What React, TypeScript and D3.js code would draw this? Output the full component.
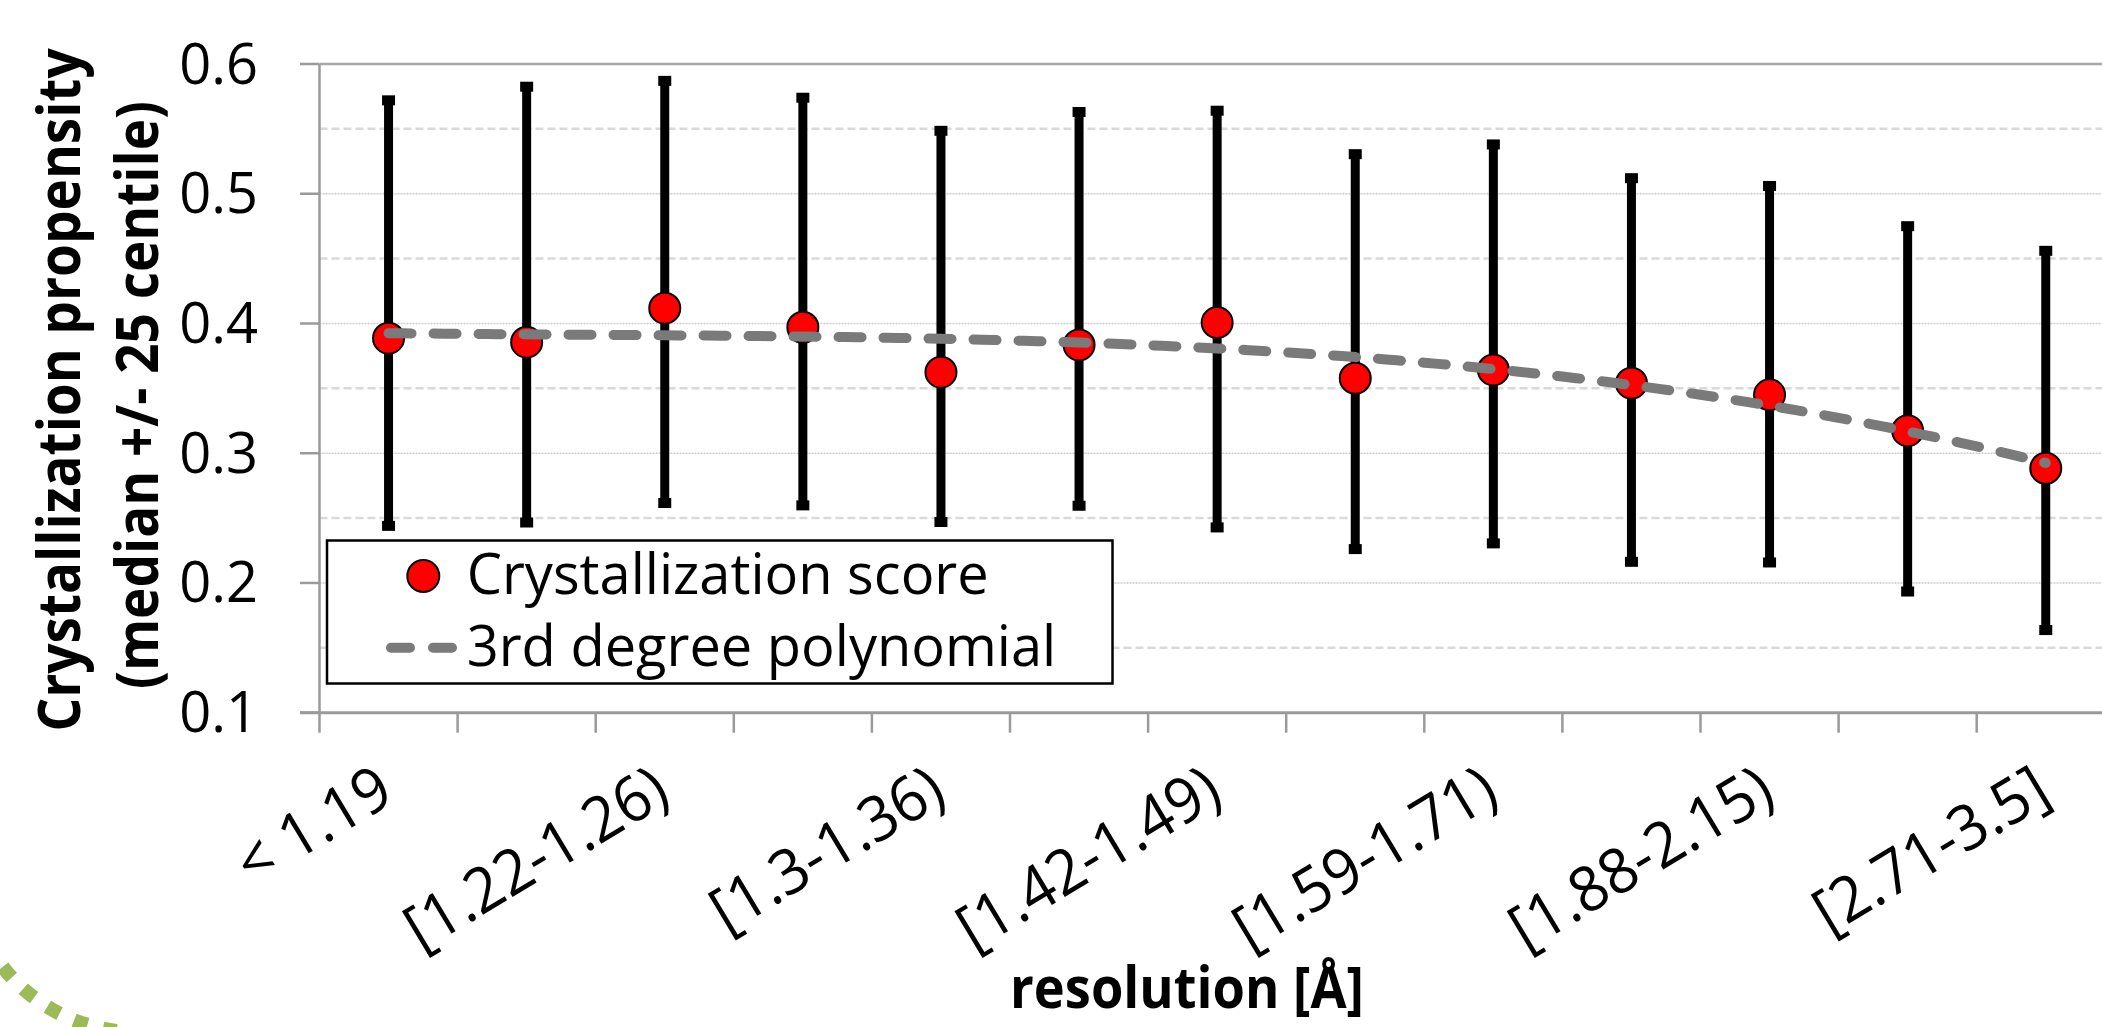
import React from "react";
import * as d3 from "d3";

const categories = [
  "< 1.19", "[1.19-1.22)", "[1.22-1.26)", "[1.26-1.3)", "[1.3-1.36)", "[1.36-1.42)",
  "[1.42-1.49)", "[1.49-1.59)", "[1.59-1.71)", "[1.71-1.88)", "[1.88-2.15)", "[2.15-2.71)", "[2.71-3.5]",
];
const medians = [0.3887, 0.3856, 0.4118, 0.3971, 0.3625, 0.3835, 0.4007, 0.3578, 0.3642, 0.354, 0.345, 0.3174, 0.2884];
const upper = [0.572, 0.5825, 0.587, 0.574, 0.5485, 0.563, 0.564, 0.5305, 0.538, 0.512, 0.506, 0.475, 0.456];
const lower = [0.244, 0.2466, 0.2616, 0.2598, 0.247, 0.2595, 0.2428, 0.2261, 0.2305, 0.2163, 0.2158, 0.1934, 0.1637];
const yMajorTicks = [0.1, 0.2, 0.3, 0.4, 0.5, 0.6];
const yMinorTicks = [0.15, 0.25, 0.35, 0.45, 0.55];
const yTitleLines = ["Crystallization propensity", "(median +/- 25 centile)"];
const xTitle = "resolution [Å]";
const legendLabels = ["Crystallization score", "3rd degree polynomial"];

const W = 2102;
const H = 1027;
const left = 319.5;
const step = 138.1;
const top = 64;
const bottom = 712.7;

function cubicFit(xs: number[], ys: number[]): number[] {
  const n = 4;
  const A: number[][] = Array.from({ length: n }, () => new Array(n + 1).fill(0));
  xs.forEach((x, k) => {
    for (let i = 0; i < n; i++) {
      for (let j = 0; j < n; j++) A[i][j] += Math.pow(x, i + j);
      A[i][n] += ys[k] * Math.pow(x, i);
    }
  });
  for (let c = 0; c < n; c++) {
    let p = c;
    for (let r = c + 1; r < n; r++) if (Math.abs(A[r][c]) > Math.abs(A[p][c])) p = r;
    [A[c], A[p]] = [A[p], A[c]];
    for (let r = 0; r < n; r++) {
      if (r === c) continue;
      const f = A[r][c] / A[c][c];
      for (let k = c; k <= n; k++) A[r][k] -= f * A[c][k];
    }
  }
  return A.map((row, i) => row[n] / row[i]);
}

export default function App() {
  const x = d3.scaleBand<string>().domain(categories).range([left, left + step * categories.length]).padding(0);
  const xNum = d3.scaleLinear().domain([0.5, categories.length + 0.5]).range([left, left + step * categories.length]);
  const y = d3.scaleLinear().domain([0.1, 0.6]).range([bottom, top]);
  const cx = (c: string) => (x(c) as number) + x.bandwidth() / 2;

  const idx = categories.map((_, i) => i + 1);
  const coef = cubicFit(idx, medians);
  const poly = (t: number) => coef[0] + coef[1] * t + coef[2] * t * t + coef[3] * t * t * t;
  const samples = d3.range(1, categories.length + 0.001, 0.1);
  const trendPath = d3.line<number>().x((t) => xNum(t)).y((t) => y(poly(t)))(samples) || "";

  const xTickPositions = d3.range(categories.length + 1).map((k) => left + k * step);

  const font = "'Open Sans', 'Noto Sans', sans-serif";

  // decorative green dotted arc (bottom-left)
  const ac = [136.5, 862];
  const ar = 170;
  const pt = (a: number) => [ac[0] + ar * Math.cos((a * Math.PI) / 180), ac[1] + ar * Math.sin((a * Math.PI) / 180)];
  const a1 = pt(152), a2 = pt(96);
  const arcPath = `M${a1[0]},${a1[1]} A${ar},${ar} 0 0 0 ${a2[0]},${a2[1]}`;

  return (
    <div style={{ position: "absolute", left: 0, top: 0 }}>
      <svg width={W} height={H} style={{ display: "block", background: "#fff" }} fontFamily={font}>
        <rect x={0} y={0} width={W} height={H} fill="#fff" />
        {/* minor gridlines */}
        {yMinorTicks.map((v) => (
          <line key={"mn" + v} x1={left} x2={W} y1={y(v)} y2={y(v)} stroke="#d9d9d9" strokeWidth={2.5} strokeDasharray="8 4" />
        ))}
        {/* major gridlines */}
        {yMajorTicks.filter((v) => v > 0.1 && v < 0.6).map((v) => (
          <line key={"mj" + v} x1={left} x2={W} y1={y(v)} y2={y(v)} stroke="#cccccc" strokeWidth={1.5} strokeDasharray="2 1" />
        ))}
        <line x1={left} x2={W} y1={y(0.6)} y2={y(0.6)} stroke="#a8a8a8" strokeWidth={2.5} />
        {/* y axis */}
        <line x1={left} x2={left} y1={top} y2={bottom} stroke="#9a9a9a" strokeWidth={2.5} />
        {yMajorTicks.map((v) => (
          <line key={"yt" + v} x1={300} x2={left} y1={y(v)} y2={y(v)} stroke="#9a9a9a" strokeWidth={2.5} />
        ))}
        {/* x axis */}
        <line x1={300} x2={W} y1={bottom} y2={bottom} stroke="#9a9a9a" strokeWidth={3} />
        {xTickPositions.map((p, k) => (
          <line key={"xt" + k} x1={p} x2={p} y1={bottom} y2={bottom + 20} stroke="#9a9a9a" strokeWidth={2.5} />
        ))}
        {/* y tick labels */}
        {yMajorTicks.map((v) => (
          <text key={"yl" + v} x={258} y={y(v) + 19.5} textAnchor="end" fontSize={56} fill="#000">
            {v.toFixed(1)}
          </text>
        ))}
        {/* error bars */}
        {categories.map((c, i) => (
          <g key={"eb" + i}>
            <line x1={cx(c)} x2={cx(c)} y1={y(lower[i])} y2={y(upper[i])} stroke="#000" strokeWidth={9} />
            <line x1={cx(c) - 6.5} x2={cx(c) + 6.5} y1={y(upper[i])} y2={y(upper[i])} stroke="#000" strokeWidth={10} />
            <line x1={cx(c) - 6.5} x2={cx(c) + 6.5} y1={y(lower[i])} y2={y(lower[i])} stroke="#000" strokeWidth={10} />
          </g>
        ))}
        {/* markers */}
        {categories.map((c, i) => (
          <circle key={"mk" + i} cx={cx(c)} cy={y(medians[i])} r={15.5} fill="#ff0000" stroke="#000" strokeWidth={2} />
        ))}
        {/* trendline */}
        <path d={trendPath} fill="none" stroke="#7a7a7a" strokeWidth={10} strokeDasharray="23 22" strokeLinecap="round" />
        {/* x labels (every other category) */}
        {categories.map((c, i) =>
          i % 2 === 0 ? (
            <text key={"xl" + i} transform={`translate(${cx(c) + 8},${bottom + 88}) rotate(-31) scale(1.0,1.04)`} textAnchor="end" fontSize={60} fill="#000">
              {c}
            </text>
          ) : null
        )}
        {/* legend */}
        <rect x={327} y={540.5} width={785.5} height={143} fill="#fff" stroke="#000" strokeWidth={2.5} />
        <circle cx={423.3} cy={576} r={16} fill="#ff0000" stroke="#000" strokeWidth={2} />
        <text x={466.7} y={594} fontSize={56} fill="#000">{legendLabels[0]}</text>
        <line x1={391} x2={452} y1={647.7} y2={647.7} stroke="#7a7a7a" strokeWidth={10} strokeDasharray="19 23" strokeLinecap="round" />
        <text x={466.7} y={665.7} fontSize={56} fill="#000">{legendLabels[1]}</text>
        {/* axis titles */}
        <text transform="translate(80,390) rotate(-90) scale(0.9,1)" textAnchor="middle" fontSize={59} fontWeight="bold" fill="#000">
          {yTitleLines[0]}
        </text>
        <text transform="translate(158,395) rotate(-90) scale(0.9,1)" textAnchor="middle" fontSize={59} fontWeight="bold" fill="#000">
          {yTitleLines[1]}
        </text>
        <text transform="translate(1187,1008) scale(0.92,1)" textAnchor="middle" fontSize={57} fontWeight="bold" fill="#000">
          {xTitle}
        </text>
        {/* decorative dotted arc */}
        <path d={arcPath} fill="none" stroke="#9bbb59" strokeWidth={14} strokeDasharray="14 16" />
      </svg>
    </div>
  );
}
